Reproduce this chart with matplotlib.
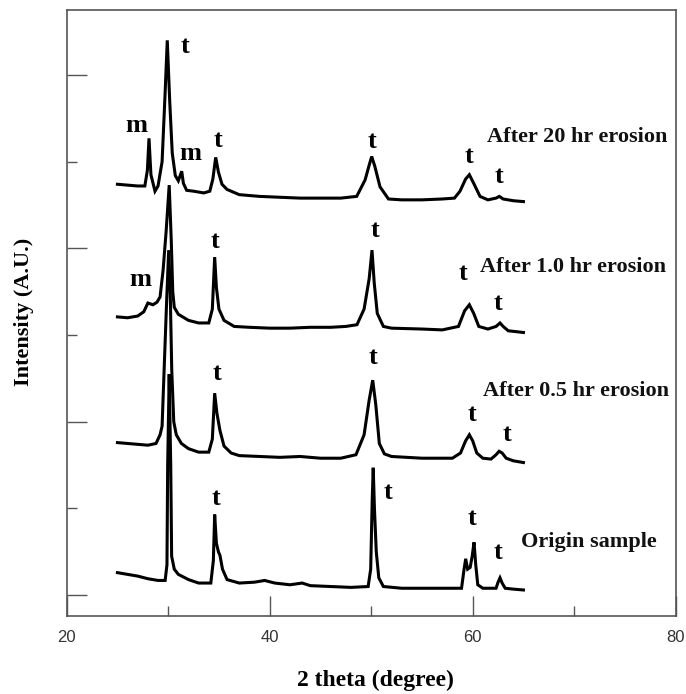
import matplotlib
matplotlib.use("Agg")
import matplotlib.pyplot as plt
from matplotlib.ticker import MultipleLocator

# ---- data (2 theta in degrees, intensity in arbitrary offset units) ----
origin_x = [25.0, 26.0, 27.0, 28.0, 29.0, 29.7, 29.88, 29.95, 30.1, 30.25, 30.34, 30.6, 31.0, 32.0, 33.0,
            34.2, 34.45, 34.58, 34.75, 34.95, 35.1, 35.35, 35.8, 37.0, 38.5, 39.5, 40.5, 42.0, 43.2, 44.0,
            46.0, 48.0, 49.7, 49.95, 50.1, 50.2, 50.32, 50.5, 50.75, 51.2, 53.0, 56.0, 58.9, 59.15, 59.31,
            59.5, 59.75, 59.95, 60.13, 60.3, 60.5, 61.0, 62.3, 62.5, 62.69, 62.9, 63.2, 64.0, 65.0]
origin_y = [0.26, 0.24, 0.22, 0.19, 0.17, 0.17, 0.35, 1.5, 2.55, 1.5, 0.45, 0.30, 0.24, 0.18, 0.14,
            0.14, 0.40, 0.93, 0.60, 0.50, 0.46, 0.30, 0.18, 0.14, 0.15, 0.17, 0.14, 0.12, 0.14, 0.11,
            0.10, 0.09, 0.10, 0.30, 1.10, 1.47, 1.00, 0.50, 0.20, 0.10, 0.08, 0.08, 0.08, 0.30, 0.42,
            0.30, 0.32, 0.45, 0.61, 0.35, 0.12, 0.08, 0.08, 0.15, 0.20, 0.14, 0.08, 0.07, 0.06]

h05_x = [25.0, 26.0, 27.0, 28.0, 28.8, 29.2, 29.4, 29.6, 29.85, 30.05, 30.2, 30.35, 30.55, 30.8, 31.3,
         32.0, 33.0, 34.0, 34.35, 34.58, 34.8, 35.1, 35.5, 36.2, 37.0, 39.0, 41.0, 43.0, 45.0, 47.0,
         48.5, 49.3, 49.8, 50.15, 50.45, 50.8, 51.3, 52.0, 55.0, 58.0, 58.8, 59.3, 59.67, 60.0, 60.4,
         61.0, 61.8, 62.3, 62.6, 62.9, 63.3, 64.0, 65.0]
h05_y = [1.76, 1.75, 1.74, 1.73, 1.75, 1.85, 1.95, 2.60, 3.40, 3.98, 3.50, 2.60, 2.00, 1.85, 1.75,
         1.69, 1.65, 1.65, 1.80, 2.33, 2.10, 1.90, 1.72, 1.64, 1.61, 1.60, 1.59, 1.60, 1.58, 1.58,
         1.62, 1.85, 2.25, 2.48, 2.20, 1.75, 1.63, 1.60, 1.58, 1.58, 1.64, 1.78, 1.85, 1.78, 1.64,
         1.58, 1.57, 1.62, 1.66, 1.64, 1.58, 1.55, 1.53]

h10_x = [25.0, 26.0, 27.0, 27.6, 28.0, 28.5, 28.9, 29.2, 29.5, 29.8, 30.1, 30.3, 30.45, 30.6, 31.0,
         32.0, 33.0, 34.0, 34.35, 34.58, 34.75, 35.0, 35.5, 36.5, 38.0, 40.0, 42.0, 44.0, 46.0, 47.5,
         48.6, 49.3, 49.8, 50.08, 50.3, 50.6, 51.2, 52.0, 55.0, 57.0, 58.6, 59.2, 59.67, 60.1, 60.6,
         61.5, 62.3, 62.69, 63.0, 63.5, 65.0]
h10_y = [3.21, 3.20, 3.22, 3.27, 3.37, 3.35, 3.38, 3.44, 3.75, 4.20, 4.73, 4.10, 3.50, 3.32, 3.24,
         3.17, 3.14, 3.14, 3.30, 3.90, 3.55, 3.30, 3.17, 3.10, 3.09, 3.08, 3.08, 3.09, 3.09, 3.10,
         3.12, 3.30, 3.65, 3.98, 3.60, 3.25, 3.10, 3.08, 3.07, 3.06, 3.10, 3.28, 3.35, 3.25, 3.10,
         3.07, 3.10, 3.14, 3.10, 3.05, 3.03]

h20_x = [25.0, 26.0, 27.0, 27.7, 27.95, 28.11, 28.3, 28.7, 29.0, 29.4, 29.7, 29.91, 30.15, 30.4, 30.7,
         31.0, 31.33, 31.5, 31.82, 32.5, 33.5, 34.1, 34.4, 34.68, 34.95, 35.3, 35.8, 37.0, 39.0, 41.0,
         43.0, 45.0, 47.0, 48.57, 49.4, 49.8, 50.05, 50.35, 50.87, 51.7, 53.0, 55.0, 57.0, 58.2, 58.75,
         59.3, 59.67, 60.1, 60.72, 61.5, 62.3, 62.62, 63.0, 64.0, 65.0]
h20_y = [4.74, 4.73, 4.72, 4.72, 4.90, 5.27, 4.85, 4.66, 4.72, 5.00, 5.80, 6.40, 5.70, 5.10, 4.84,
         4.78, 4.89, 4.75, 4.67, 4.66, 4.64, 4.66, 4.80, 5.05, 4.88, 4.74, 4.68, 4.62, 4.60, 4.59,
         4.58, 4.58, 4.58, 4.60, 4.79, 4.96, 5.06, 4.95, 4.71, 4.57, 4.56, 4.56, 4.57, 4.58, 4.66,
         4.80, 4.85, 4.75, 4.60, 4.56, 4.58, 4.60, 4.57, 4.55, 4.54]

series_names = ["Origin sample", "After 0.5 hr erosion", "After 1.0 hr erosion", "After 20 hr erosion"]
series_x = [origin_x, h05_x, h10_x, h20_x]
series_y = [origin_y, h05_y, h10_y, h20_y]
name_pos = [(64.8, 0.61), (60.98, 2.35), (60.72, 3.79), (61.38, 5.29)]

# phase markers (t = tetragonal, m = monoclinic)
peak_labels = ["m", "t", "m", "t", "t", "t", "t",
               "m", "t", "t", "t", "t",
               "t", "t", "t", "t",
               "t", "t", "t", "t"]
peak_pos = [(26.9, 5.42), (31.66, 6.33), (32.15, 5.09), (34.88, 5.25), (50.05, 5.23), (59.67, 5.06), (62.62, 4.83),
            (27.22, 3.64), (34.61, 4.08), (50.37, 4.21), (59.07, 3.71), (62.5, 3.37),
            (34.78, 2.56), (50.2, 2.74), (59.96, 2.08), (63.35, 1.85),
            (34.68, 1.12), (51.65, 1.18), (59.96, 0.88), (62.52, 0.49)]

xticks = [20, 40, 60, 80]

# ---- figure ----
fig = plt.figure(figsize=(6.86, 6.94), dpi=100)
ax = fig.add_axes([0.0972, 0.1124, 0.8878, 0.8732])

for xs, ys in zip(series_x, series_y):
    ax.plot(xs, ys, color="black", lw=2.2, solid_joinstyle="miter")

serif = ["Liberation Serif", "DejaVu Serif"]
for name, (tx, ty) in zip(series_names, name_pos):
    ax.text(tx, ty, name, family=serif, fontweight="bold", fontsize=16,
            ha="left", va="center", color="#111111")

for lab, (tx, ty) in zip(peak_labels, peak_pos):
    ax.text(tx, ty, lab, family=serif, fontweight="bold", fontsize=19,
            ha="center", va="center", color="black")

ax.set_xlim(20, 80)
ax.set_ylim(-0.24, 6.75)
ax.set_xticks(xticks)
ax.set_xticklabels([str(v) for v in xticks], family="Liberation Sans", fontsize=12, color="#333333")
ax.xaxis.set_minor_locator(MultipleLocator(10))
ax.yaxis.set_major_locator(MultipleLocator(2))
ax.yaxis.set_minor_locator(MultipleLocator(1))
ax.set_yticklabels([])
ax.tick_params(axis="both", which="major", direction="in", length=14.4, width=1.0, color="#555555")
ax.tick_params(axis="both", which="minor", direction="in", length=7.2, width=1.0, color="#555555")
ax.tick_params(axis="x", which="major", pad=10)
for sp in ax.spines.values():
    sp.set_color("#555555")
    sp.set_linewidth(1.2)

fig.text(0.547, 0.019, "2 theta (degree)", family=serif, fontweight="bold", fontsize=17,
         ha="center", va="center")
fig.text(0.035, 0.55, "Intensity (A.U.)", family=serif, fontweight="bold", fontsize=16,
         rotation=90, ha="center", va="center")

fig.savefig("out.png", dpi=100)
